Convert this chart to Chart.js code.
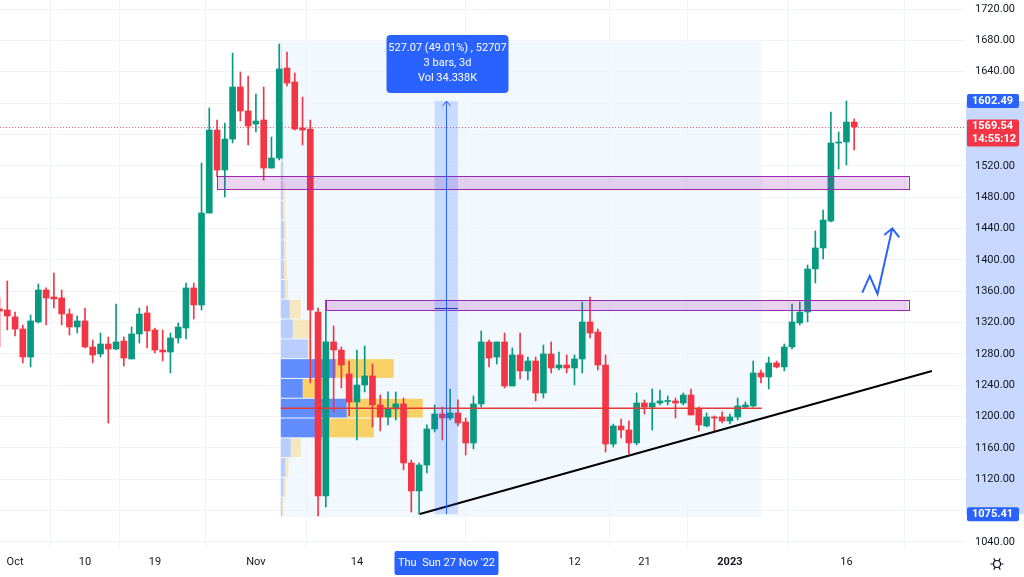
<!DOCTYPE html>
<html>
<head>
<meta charset="utf-8">
<script src="https://cdn.jsdelivr.net/npm/chart.js@4.4.0/dist/chart.umd.min.js"></script>
<style>
html, body { margin: 0; padding: 0; background: #fff; overflow: hidden; }
canvas { display: block; }
</style>
</head>
<body>
<canvas id="chart" width="1024" height="577"></canvas>
<script>
// daily candles, index 0 = 29 Sep 2022
const opens = [
  1337.3, 1336.0, 1327.1, 1311.7, 1276.0, 1320.7, 1361.5, 1352.6, 1351.3, 1330.9,
  1314.3, 1322.0, 1288.8, 1279.9, 1292.6, 1286.2, 1296.4, 1273.5, 1305.4, 1332.2,
  1310.5, 1284.9, 1282.4, 1300.3, 1313.0, 1364.1, 1342.4, 1459.7, 1565.6, 1514.6,
  1554.1, 1620.5, 1589.9, 1573.3, 1578.4, 1517.1, 1529.9, 1644.7, 1626.9, 1568.2,
  1566.9, 1333.4, 1098.7, 1295.2, 1284.9, 1254.3, 1218.6, 1240.3, 1251.8, 1214.8,
  1199.5, 1209.7, 1216.1, 1140.8, 1105.1, 1138.2, 1184.2, 1203.3, 1198.2, 1204.6,
  1193.1, 1166.3, 1216.1, 1295.2, 1276.0, 1295.2, 1239.0, 1278.6, 1258.2, 1270.9,
  1230.1, 1279.9, 1262.0, 1265.8, 1262.0, 1273.5, 1320.7, 1307.9, 1265.8, 1165.0,
  1188.0, 1182.9, 1166.3, 1217.3, 1212.2, 1217.3, 1219.2, 1219.9, 1217.3, 1227.5,
  1209.7, 1188.0, 1199.5, 1199.5, 1194.4, 1199.5, 1212.2, 1213.5, 1255.6, 1250.5,
  1268.4, 1263.3, 1288.8, 1319.4, 1333.4, 1388.3, 1415.1, 1449.5, 1549.0, 1550.3,
  1575.8
];
const highs = [
  1351.3, 1373.0, 1333.4, 1316.8, 1329.6, 1369.2, 1364.1, 1383.2, 1361.5, 1337.3,
  1328.3, 1338.5, 1297.7, 1306.6, 1301.5, 1343.6, 1301.5, 1314.3, 1338.5, 1341.1,
  1313.0, 1310.5, 1306.6, 1319.4, 1370.4, 1370.4, 1523.5, 1593.7, 1578.4, 1574.6,
  1663.9, 1639.6, 1634.5, 1611.6, 1620.5, 1556.7, 1675.3, 1665.1, 1638.4, 1607.7,
  1578.4, 1338.5, 1348.7, 1315.6, 1288.8, 1270.9, 1284.9, 1290.1, 1267.1, 1227.5,
  1231.4, 1231.4, 1223.7, 1144.6, 1140.8, 1189.3, 1214.8, 1212.2, 1235.2, 1221.2,
  1198.2, 1226.3, 1309.2, 1297.7, 1295.2, 1306.6, 1287.5, 1306.6, 1276.0, 1276.0,
  1291.3, 1295.2, 1282.4, 1278.6, 1278.6, 1346.2, 1352.6, 1311.7, 1278.6, 1190.5,
  1196.9, 1194.4, 1230.1, 1221.2, 1235.2, 1233.9, 1226.3, 1223.7, 1230.1, 1235.2,
  1212.2, 1204.6, 1200.8, 1205.9, 1203.3, 1223.7, 1218.6, 1270.9, 1259.4, 1276.0,
  1270.9, 1292.6, 1343.6, 1346.2, 1393.4, 1436.8, 1463.6, 1588.6, 1563.1, 1602.49,
  1579.7
];
const lows = [
  1288.8, 1310.5, 1302.8, 1268.4, 1263.3, 1319.4, 1316.8, 1338.5, 1316.8, 1304.1,
  1306.6, 1287.5, 1268.4, 1276.0, 1191.8, 1284.9, 1264.5, 1273.5, 1293.9, 1287.5,
  1281.1, 1270.9, 1255.6, 1293.9, 1299.0, 1324.5, 1336.0, 1459.7, 1505.7, 1480.2,
  1549.0, 1577.1, 1546.5, 1563.1, 1501.8, 1517.1, 1527.4, 1621.8, 1565.6, 1546.5,
  1242.9, 1073.2, 1084.7, 1205.9, 1236.5, 1200.8, 1170.1, 1231.4, 1186.7, 1181.6,
  1189.3, 1195.6, 1131.9, 1078.3, 1075.41, 1128.0, 1180.3, 1170.1, 1195.6, 1188.0,
  1151.0, 1158.6, 1212.2, 1263.3, 1267.1, 1236.5, 1239.0, 1248.0, 1246.7, 1219.9,
  1223.7, 1255.6, 1259.4, 1255.6, 1240.3, 1255.6, 1300.3, 1259.4, 1154.8, 1161.2,
  1172.7, 1152.3, 1163.8, 1203.3, 1182.9, 1214.8, 1214.8, 1198.2, 1214.8, 1202.0,
  1181.6, 1186.7, 1181.6, 1191.8, 1190.5, 1195.6, 1211.0, 1212.2, 1242.9, 1235.2,
  1262.0, 1258.2, 1286.2, 1316.8, 1320.7, 1370.4, 1401.0, 1448.3, 1515.9, 1521.0,
  1540.1
];
const closes = [
  1334.7, 1328.3, 1311.7, 1276.0, 1322.0, 1361.5, 1351.3, 1350.0, 1330.9, 1314.3,
  1322.0, 1288.8, 1278.6, 1292.6, 1286.2, 1295.2, 1274.7, 1305.4, 1330.9, 1309.2,
  1284.9, 1282.4, 1300.3, 1314.3, 1364.1, 1342.4, 1459.7, 1565.6, 1514.6, 1554.1,
  1620.5, 1589.9, 1570.7, 1577.1, 1517.1, 1529.9, 1643.5, 1625.6, 1566.9, 1565.6,
  1336.0, 1098.7, 1295.2, 1284.9, 1265.8, 1218.6, 1240.3, 1251.8, 1214.8, 1199.5,
  1209.7, 1216.1, 1140.8, 1105.1, 1138.2, 1184.2, 1203.3, 1198.2, 1204.6, 1191.8,
  1166.3, 1216.1, 1295.2, 1274.7, 1295.2, 1239.0, 1278.6, 1258.2, 1270.9, 1230.1,
  1279.9, 1262.0, 1265.8, 1262.0, 1273.5, 1320.7, 1306.6, 1265.8, 1165.0, 1188.0,
  1182.9, 1166.3, 1217.3, 1212.2, 1217.3, 1219.9, 1219.9, 1217.3, 1227.5, 1202.0,
  1189.3, 1199.5, 1198.2, 1194.4, 1199.5, 1213.5, 1214.8, 1255.6, 1250.5, 1268.4,
  1263.3, 1288.8, 1320.7, 1333.4, 1388.3, 1415.1, 1450.8, 1549.0, 1550.3, 1575.8,
  1569.54
];

// time axis (bar index) and labels
const dateTicks = [2, 11, 20, 33, 46, 74, 83, 94, 109];
const dateLabels = ['Oct', '10', '19', 'Nov', '14', '12', '21', '2023', '16'];
const hiddenPriceLabels = [1600, 1560, 1080];

// drawings
const zoneStart = [28, 42];
const zoneEnd = [117, 117];
const zoneLow = [1490.3, 1335.9];
const zoneHigh = [1506.8, 1348.7];
const trendX = [54.1, 120];
const trendY = [1075.7, 1258.1];
const arrowX = [111.04, 112.0, 113.0, 114.9];
const arrowY = [1358.1, 1379.4, 1356.4, 1440.2];
const arrowHeadX = [113.87, 115.8];
const arrowHeadY = [1431.7, 1428.7];

// fixed range volume profile, 24 rows from bottom
const profileStart = 36.2, profileEnd = 98.1;
const profileLow = 1071.9, profileHigh = 1677.9;
const upVol = [2.6, 5.4, 8.6, 20, 84, 132, 44, 110, 54, 24, 18, 8, 6, 6, 6, 4, 4, 4, 4, 4, 2, 2, 2, 1];
const downVol = [2.6, 5.4, 6.6, 20, 102, 152, 40, 116, 8, 34, 22, 6, 6, 4, 4, 4, 4, 2, 2, 2, 2, 2, 1, 1];
const valueAreaRows = [4, 5, 6, 7];
const pocPrice = 1210.6;

// price range measure
const measureFrom = 56, measureTo = 59;
const measureLow = 1075.41, measureHigh = 1602.49;
const measureText = ['527.07 (49.01%) , 52707', '3 bars, 3d', 'Vol 34.338K'];
const measureDate = "Thu  Sun 27 Nov '22";
const lastPrice = 1569.54;
const countdown = '14:55:12';

const UP = '#089981', DOWN = '#f23645', BLUE = '#2962ff';
const FONT = "Roboto, 'Liberation Sans', sans-serif";

Chart.defaults.font.family = FONT;
Chart.defaults.font.size = 11;

const idx = opens.map((_, i) => i);
const candleColors = idx.map(i => closes[i] >= opens[i] ? UP : DOWN);

function priceBox(ctx, x, yc, h, bg, lines) {
    ctx.fillStyle = bg;
    ctx.beginPath();
    ctx.roundRect(x, yc - h / 2, 52, h, 2);
    ctx.fill();
    ctx.fillStyle = '#fff';
    ctx.font = 'bold 11px ' + FONT;
    ctx.textAlign = 'left';
    ctx.textBaseline = 'middle';
    lines.forEach((t, k) => {
        ctx.fillText(t, x + 5, yc - (lines.length - 1) * 6.5 + k * 13);
    });
}

const drawings = {
    id: 'drawings',
    beforeDraw(chart) {
        const { ctx, chartArea: a, scales: { x, y } } = chart;
        ctx.save();
        ctx.fillStyle = '#fff';
        ctx.fillRect(0, 0, chart.width, chart.height);
        // profile range background
        const px0 = x.getPixelForValue(profileStart), px1 = x.getPixelForValue(profileEnd);
        const py0 = y.getPixelForValue(profileHigh), py1 = y.getPixelForValue(profileLow);
        ctx.fillStyle = 'rgba(33,150,243,0.06)';
        ctx.fillRect(px0, py0, px1 - px0, py1 - py0);
        // measured range on the price axis
        const m0 = y.getPixelForValue(measureHigh), m1 = y.getPixelForValue(measureLow);
        ctx.fillStyle = 'rgba(41,98,255,0.25)';
        ctx.fillRect(a.right + 1, m0, chart.width - a.right - 1, m1 - m0);
        ctx.restore();
    },
    beforeDatasetsDraw(chart) {
        const { ctx, chartArea: a, scales: { x, y } } = chart;
        ctx.save();
        // volume profile rows
        const px0 = x.getPixelForValue(profileStart);
        const rowH = (profileHigh - profileLow) / upVol.length;
        const k = 0.5;
        upVol.forEach((v, r) => {
            const strong = valueAreaRows.includes(r);
            const yb = y.getPixelForValue(profileLow + r * rowH);
            const yt = y.getPixelForValue(profileLow + (r + 1) * rowH);
            const h = yb - yt - 1;
            ctx.fillStyle = strong ? 'rgba(41,98,255,0.72)' : 'rgba(41,98,255,0.28)';
            ctx.fillRect(px0, yt + 0.5, v * k, h);
            ctx.fillStyle = strong ? 'rgba(251,192,45,0.72)' : 'rgba(251,192,45,0.3)';
            ctx.fillRect(px0 + v * k, yt + 0.5, downVol[r] * k, h);
        });
        // last price dotted line
        const lp = Math.round(y.getPixelForValue(lastPrice)) + 0.5;
        ctx.strokeStyle = 'rgba(242,54,69,0.8)';
        ctx.lineWidth = 1;
        ctx.setLineDash([1, 2]);
        ctx.beginPath();
        ctx.moveTo(a.left, lp);
        ctx.lineTo(a.right, lp);
        ctx.stroke();
        ctx.restore();
    },
    afterDatasetsDraw(chart) {
        const { ctx, chartArea: a, scales: { x, y } } = chart;
        ctx.save();
        // point of control
        const poc = y.getPixelForValue(pocPrice);
        ctx.strokeStyle = '#e53935';
        ctx.lineWidth = 1.5;
        ctx.beginPath();
        ctx.moveTo(x.getPixelForValue(profileStart), poc);
        ctx.lineTo(x.getPixelForValue(profileEnd), poc);
        ctx.stroke();

        // supply/demand zones
        zoneStart.forEach((s, i) => {
            const zx0 = x.getPixelForValue(s), zx1 = x.getPixelForValue(zoneEnd[i]);
            const zy0 = y.getPixelForValue(zoneHigh[i]), zy1 = y.getPixelForValue(zoneLow[i]);
            ctx.fillStyle = 'rgba(156,39,176,0.2)';
            ctx.fillRect(zx0, zy0, zx1 - zx0, zy1 - zy0);
            ctx.strokeStyle = '#9c27b0';
            ctx.lineWidth = 1;
            ctx.strokeRect(Math.round(zx0) + 0.5, Math.round(zy0) + 0.5, Math.round(zx1 - zx0), Math.round(zy1 - zy0));
        });

        // trend line
        ctx.strokeStyle = '#000';
        ctx.lineWidth = 2;
        ctx.beginPath();
        ctx.moveTo(x.getPixelForValue(trendX[0]), y.getPixelForValue(trendY[0]));
        ctx.lineTo(x.getPixelForValue(trendX[1]), y.getPixelForValue(trendY[1]));
        ctx.stroke();

        // projected path arrow
        ctx.strokeStyle = BLUE;
        ctx.lineWidth = 2;
        ctx.lineJoin = 'miter';
        ctx.beginPath();
        arrowX.forEach((v, i) => {
            const px = x.getPixelForValue(v), py = y.getPixelForValue(arrowY[i]);
            if (i === 0) ctx.moveTo(px, py); else ctx.lineTo(px, py);
        });
        ctx.stroke();
        const tipX = x.getPixelForValue(arrowX[3]), tipY = y.getPixelForValue(arrowY[3]);
        ctx.beginPath();
        ctx.moveTo(x.getPixelForValue(arrowHeadX[0]), y.getPixelForValue(arrowHeadY[0]));
        ctx.lineTo(tipX, tipY);
        ctx.lineTo(x.getPixelForValue(arrowHeadX[1]), y.getPixelForValue(arrowHeadY[1]));
        ctx.stroke();

        // price range measure band
        const bx0 = x.getPixelForValue(measureFrom), bx1 = x.getPixelForValue(measureTo);
        const by0 = y.getPixelForValue(measureHigh), by1 = y.getPixelForValue(measureLow);
        ctx.fillStyle = 'rgba(41,98,255,0.2)';
        ctx.fillRect(bx0, by0, bx1 - bx0, by1 - by0);
        const cx = Math.round((bx0 + bx1) / 2) + 0.5;
        ctx.strokeStyle = BLUE;
        ctx.lineWidth = 1;
        ctx.beginPath();
        ctx.moveTo(cx, by1);
        ctx.lineTo(cx, by0);
        ctx.moveTo(cx - 4, by0 + 5);
        ctx.lineTo(cx, by0);
        ctx.lineTo(cx + 4, by0 + 5);
        ctx.stroke();
        const my = Math.round(y.getPixelForValue(1338.5)) + 0.5;
        ctx.strokeStyle = '#1e3fa8';
        ctx.beginPath();
        ctx.moveTo(bx0, my);
        ctx.lineTo(bx1, my);
        ctx.stroke();

        // measure label
        const tw = 122, th = 58;
        const tx = cx - tw / 2 + 1, ty = by0 - 8 - th;
        ctx.fillStyle = BLUE;
        ctx.beginPath();
        ctx.roundRect(tx, ty, tw, th, 4);
        ctx.fill();
        ctx.fillStyle = '#fff';
        ctx.font = '11px ' + FONT;
        ctx.textAlign = 'center';
        ctx.textBaseline = 'middle';
        measureText.forEach((t, i) => ctx.fillText(t, tx + tw / 2, ty + 13 + i * 15));

        // date label on the time axis
        ctx.fillStyle = BLUE;
        ctx.beginPath();
        ctx.roundRect(cx - 52, a.bottom + 3, 104, 24, 2);
        ctx.fill();
        ctx.fillStyle = '#fff';
        ctx.fillText(measureDate, cx, a.bottom + 15);

        // price axis labels
        const ax = a.right + 2;
        priceBox(ctx, ax, y.getPixelForValue(measureHigh), 14, BLUE, [measureHigh.toFixed(2)]);
        priceBox(ctx, ax, y.getPixelForValue(lastPrice) + 6, 27, DOWN, [lastPrice.toFixed(2), countdown]);
        priceBox(ctx, ax, y.getPixelForValue(measureLow), 14, BLUE, [measureLow.toFixed(2)]);

        // settings gear
        const gx = 997, gy = a.bottom + 16;
        ctx.strokeStyle = '#131722';
        ctx.lineWidth = 1.2;
        ctx.beginPath();
        ctx.arc(gx, gy, 3.5, 0, Math.PI * 2);
        ctx.stroke();
        ctx.beginPath();
        for (let k = 0; k < 6; k++) {
            const ang = k * Math.PI / 3;
            ctx.moveTo(gx + Math.cos(ang) * 3.5, gy + Math.sin(ang) * 3.5);
            ctx.lineTo(gx + Math.cos(ang) * 6.5, gy + Math.sin(ang) * 6.5);
        }
        ctx.stroke();
        ctx.restore();
    }
};

new Chart(document.getElementById('chart'), {
    type: 'bar',
    data: {
        datasets: [
            {
                label: 'wick',
                data: idx.map(i => ({ x: i, y: [lows[i], highs[i]] })),
                backgroundColor: candleColors,
                barThickness: 1,
                grouped: false,
                order: 2
            },
            {
                label: 'body',
                data: idx.map(i => ({ x: i, y: [opens[i], closes[i]] })),
                backgroundColor: candleColors,
                barThickness: 6,
                minBarLength: 1,
                grouped: false,
                order: 1
            }
        ]
    },
    options: {
        responsive: false,
        animation: false,
        layout: { padding: 0 },
        plugins: {
            legend: { display: false },
            tooltip: { enabled: false }
        },
        scales: {
            x: {
                type: 'linear',
                min: 0.064,
                max: 124.26,
                offset: false,
                grid: { color: '#f0f3fa', drawTicks: false },
                border: { display: false },
                afterBuildTicks: s => { s.ticks = dateTicks.map(v => ({ value: v })); },
                afterFit: s => { s.height = 29; s.paddingLeft = 0; s.paddingRight = 0; },
                ticks: {
                    autoSkip: false,
                    maxRotation: 0,
                    padding: 8,
                    color: '#131722',
                    font: c => ({ size: 11, weight: c.tick && c.tick.value === 94 ? 'bold' : 'normal' }),
                    callback: v => {
                        const k = dateTicks.indexOf(v);
                        return k >= 0 ? dateLabels[k] : '';
                    }
                }
            },
            y: {
                position: 'right',
                min: 1032.3,
                max: 1731.5,
                grid: { color: '#f0f3fa', drawTicks: false },
                border: { display: false },
                afterFit: s => { s.width = 59; s.paddingTop = 0; s.paddingBottom = 0; },
                ticks: {
                    stepSize: 40,
                    includeBounds: false,
                    padding: 10,
                    color: '#131722',
                    callback: v => hiddenPriceLabels.includes(v) ? '' : v.toFixed(2)
                }
            }
        }
    },
    plugins: [drawings]
});
</script>
</body>
</html>
